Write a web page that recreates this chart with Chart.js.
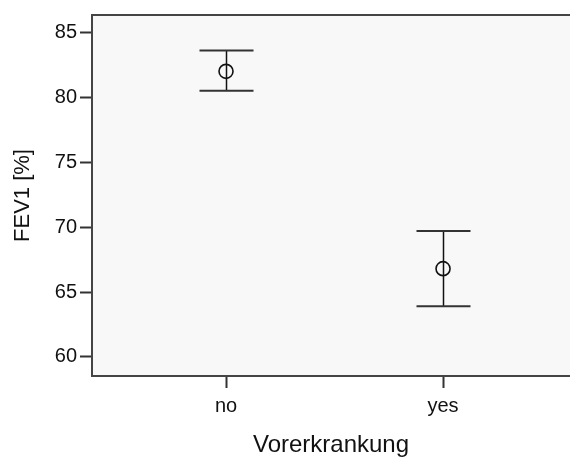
<!DOCTYPE html>
<html>
<head>
<meta charset="utf-8">
<script src="https://cdn.jsdelivr.net/npm/chart.js@4"></script>
<style>
  body { margin: 0; background: #fff; }
</style>
</head>
<body>
<canvas id="myChart" width="570" height="462"></canvas>
<script>
// data
const categories = ['no', 'yes'];
const means = [82.0, 66.8];
const upper = [83.6, 69.7];
const lower = [80.5, 63.9];
const yTicks = [60, 65, 70, 75, 80, 85];

const xPos = categories.map((c, i) => i);

// plot background + top frame
const frame = {
  id: 'frame',
  beforeDraw(chart) {
    const { ctx, chartArea: a } = chart;
    ctx.save();
    ctx.fillStyle = '#f8f8f8';
    ctx.fillRect(a.left, a.top, a.right - a.left, a.bottom - a.top);
    ctx.restore();
  },
  afterDraw(chart) {
    const { ctx, chartArea: a } = chart;
    ctx.save();
    ctx.strokeStyle = '#444';
    ctx.lineWidth = 2;
    ctx.beginPath();
    ctx.moveTo(a.left - 1, a.top);
    ctx.lineTo(a.right, a.top);
    ctx.stroke();
    ctx.restore();
  }
};

// error bars drawn over the mean circles
const errorBars = {
  id: 'errorBars',
  afterDatasetsDraw(chart) {
    const { ctx, scales: { x, y } } = chart;
    ctx.save();
    xPos.forEach((xi, i) => {
      const px = Math.round(x.getPixelForValue(xi)) + 0.5;
      const top = y.getPixelForValue(upper[i]);
      const bot = y.getPixelForValue(lower[i]);
      ctx.strokeStyle = '#111';
      ctx.lineWidth = 1.5;
      ctx.beginPath();
      ctx.moveTo(px, top);
      ctx.lineTo(px, bot);
      ctx.stroke();
      ctx.strokeStyle = '#333';
      ctx.lineWidth = 2;
      ctx.beginPath();
      ctx.moveTo(px - 27, top);
      ctx.lineTo(px + 27, top);
      ctx.moveTo(px - 27, bot);
      ctx.lineTo(px + 27, bot);
      ctx.stroke();
    });
    ctx.restore();
  }
};

const data = {
  datasets: [{
    label: 'FEV1',
    data: xPos.map((xi, i) => ({ x: xi, y: means[i] })),
    pointRadius: 7,
    pointBorderWidth: 1.6,
    pointBorderColor: '#111',
    pointBackgroundColor: 'rgba(0,0,0,0)',
    pointHoverRadius: 7,
    showLine: false
  }]
};

const options = {
  responsive: false,
  animation: false,
  layout: { autoPadding: false, padding: { top: 12, right: 0, left: 0, bottom: 0 } },
  plugins: {
    legend: { display: false },
    tooltip: { enabled: false }
  },
  scales: {
    x: {
      type: 'linear',
      min: -0.6175,
      max: 1.585,
      afterBuildTicks: axis => { axis.ticks = xPos.map(v => ({ value: v })); },
      afterFit: axis => { axis.height = 86; axis.paddingRight = 0; axis.paddingLeft = 0; },
      grid: { drawOnChartArea: false, tickLength: 12, tickWidth: 2, tickColor: '#333' },
      border: { color: '#444', width: 2 },
      ticks: {
        color: '#111',
        padding: 6,
        font: { family: 'Liberation Sans', size: 20 },
        callback: v => categories[v]
      },
      title: {
        display: true,
        text: 'Vorerkrankung',
        color: '#111',
        padding: { top: 6, bottom: 2 },
        font: { family: 'Liberation Sans', size: 24 }
      }
    },
    y: {
      min: 58.53,
      max: 86.34,
      afterBuildTicks: axis => { axis.ticks = yTicks.map(v => ({ value: v })); },
      afterFit: axis => { axis.width = 92; },
      grid: { drawOnChartArea: false, tickLength: 12, tickWidth: 2, tickColor: '#333' },
      border: { color: '#444', width: 2 },
      ticks: {
        color: '#111',
        padding: 3,
        font: { family: 'Liberation Sans', size: 20 }
      },
      title: {
        display: true,
        text: 'FEV1 [%]',
        color: '#111',
        padding: { top: 10, bottom: 4 },
        font: { family: 'Liberation Sans', size: 22 }
      }
    }
  }
};

const config = {
  type: 'scatter',
  data,
  options,
  plugins: [frame, errorBars]
};

const myChart = new Chart(document.getElementById('myChart'), config);
</script>
</body>
</html>
